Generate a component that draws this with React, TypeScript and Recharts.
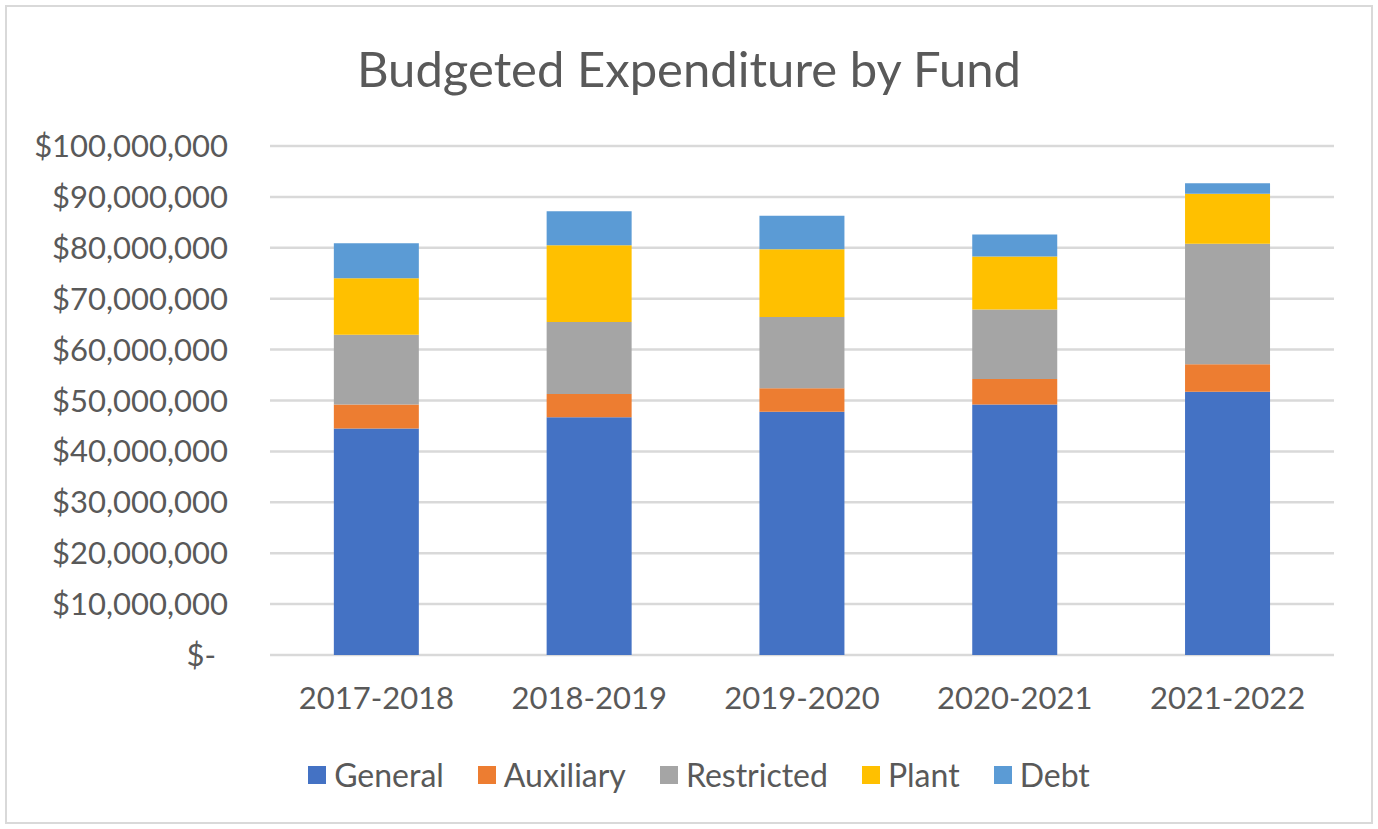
import { BarChart, Bar, XAxis, YAxis, CartesianGrid } from 'recharts'

const years = ['2017-2018', '2018-2019', '2019-2020', '2020-2021', '2021-2022']
const general = [44.5, 46.7, 47.8, 49.2, 51.7]
const auxiliary = [4.7, 4.6, 4.6, 5.0, 5.4]
const restricted = [13.7, 14.1, 14.0, 13.7, 23.7]
const plant = [11.1, 15.1, 13.3, 10.4, 9.8]
const debt = [6.9, 6.7, 6.6, 4.3, 2.1]
const yTicks = [0, 10, 20, 30, 40, 50, 60, 70, 80, 90, 100]

const series = [
  { key: 'General', values: general, color: '#4472C4' },
  { key: 'Auxiliary', values: auxiliary, color: '#ED7D31' },
  { key: 'Restricted', values: restricted, color: '#A5A5A5' },
  { key: 'Plant', values: plant, color: '#FFC000' },
  { key: 'Debt', values: debt, color: '#5B9BD5' },
]

const data = years.map((year, i) => {
  const row: Record<string, string | number> = { year }
  series.forEach((s) => {
    row[s.key] = s.values[i] * 1000000
  })
  return row
})

const font = 'Lato, "Open Sans", sans-serif'
const textColor = '#595959'

const formatMoney = (v: number) =>
  v === 0 ? '$-' : '$' + v.toLocaleString('en-US')

// accounting format: the dash for zero sits a little left of the other labels
// eslint-disable-next-line @typescript-eslint/no-explicit-any
const MoneyTick = (props: any) => {
  const { x, y, payload } = props
  const shift = payload.value === 0 ? -12 : 0
  return (
    <text
      x={x + shift}
      y={y}
      dy="0.355em"
      textAnchor="end"
      fill={textColor}
      fontSize={31}
      fontFamily={font}
    >
      {formatMoney(payload.value)}
    </text>
  )
}

export default function App() {
  return (
    <div
      style={{
        position: 'absolute',
        left: 0,
        top: 0,
        width: 1378,
        height: 829,
        background: '#fff',
        fontFamily: font,
      }}
    >
      <div
        style={{
          position: 'absolute',
          left: 5,
          top: 5,
          width: 1364,
          height: 815,
          border: '2px solid #d9d9d9',
        }}
      />
      <div
        style={{
          position: 'absolute',
          left: 0,
          top: 38,
          width: 1378,
          textAlign: 'center',
          fontSize: 49,
          color: textColor,
          lineHeight: '60px',
        }}
      >
        Budgeted Expenditure by Fund
      </div>
      <div style={{ position: 'absolute', left: 0, top: 0 }}>
        <BarChart
          width={1378}
          height={829}
          data={data}
          margin={{ top: 146, right: 44, left: 0, bottom: 144 }}
          barCategoryGap="30%"
        >
          <CartesianGrid
            vertical={false}
            stroke="#d9d9d9"
            strokeWidth={2.5}
          />
          <XAxis
            dataKey="year"
            axisLine={false}
            tickLine={false}
            tick={{ fill: textColor, fontSize: 31, fontFamily: font }}
            tickMargin={26}
          />
          <YAxis
            width={270}
            domain={[0, 100000000]}
            ticks={yTicks.map((t) => t * 1000000)}
            axisLine={false}
            tickLine={false}
            tick={<MoneyTick />}
            tickMargin={36}
          />
          {series.map((s) => (
            <Bar
              key={s.key}
              dataKey={s.key}
              stackId="a"
              fill={s.color}
              isAnimationActive={false}
            />
          ))}
        </BarChart>
      </div>
      <div
        style={{
          position: 'absolute',
          left: 10,
          top: 754,
          width: 1378,
          display: 'flex',
          justifyContent: 'center',
          gap: 34,
          fontSize: 32,
          lineHeight: '42px',
          color: textColor,
        }}
      >
        {series.map((s) => (
          <div key={s.key} style={{ display: 'flex', alignItems: 'center' }}>
            <span
              style={{
                display: 'inline-block',
                width: 18,
                height: 18,
                background: s.color,
                marginRight: 8,
              }}
            />
            {s.key}
          </div>
        ))}
      </div>
    </div>
  )
}
